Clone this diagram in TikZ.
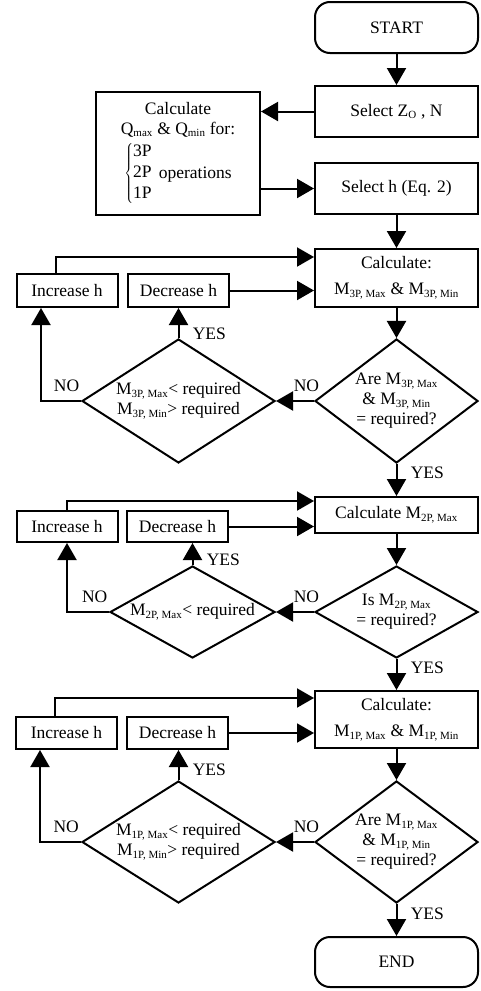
\documentclass[tikz,border=0pt]{standalone}
\usepackage{fontspec}
\setmainfont{Liberation Serif}
\usetikzlibrary{shapes.geometric, arrows.meta, positioning}
\tikzstyle{block}=[draw,fill=white,rectangle,inner sep=0pt,minimum width=163pt]
\tikzstyle{term}=[block,rounded corners=15pt,minimum height=51pt]
\tikzstyle{small}=[block,minimum width=101pt]
\tikzstyle{decision}=[draw,fill=white,diamond,inner sep=0pt,align=center]
\tikzstyle{every node}=[font=\fontsize{17.5}{20}\selectfont]
\newcommand{\sbs}[1]{\textsubscript{\fontsize{11}{11}\selectfont #1}}

\begin{document}
\begin{tikzpicture}[x=1pt,y=-1pt,line width=2pt,>={Triangle[length=17pt,width=19pt]}]
    \useasboundingbox (0,0) rectangle (480,991);
    \node[term] (start) at (396.5,27.5) {START};
    \node[block, minimum height=51pt, below of=start, node distance=84pt] (selz) {Select Z\sbs{O} , N};
    \node[block, minimum height=51pt, below of=selz, node distance=77pt] (selh) {Select h (Eq. 2)};
    \node[block, minimum width=164pt, minimum height=123pt, align=center] (calcq) at (178,153.5)
        {Calculate\\Q\sbs{max} \& Q\sbs{min} for:\\[5pt]$\left\{\begin{tabular}{@{}l@{}}3P\\[1pt]2P\\[1pt]1P\end{tabular}\right.$\hspace{6pt}operations};
    \draw[->] (start) -- (selz);
    \draw[->] (selz.west) -- (selz.west -| calcq.east);
    \draw[->] (selh.west -| calcq.east) -- (selh.west);

    % 3P
    \node[block, minimum height=58pt, align=center, below of=selh, node distance=89.5pt] (m3) {Calculate:\\[6pt]M\sbs{3P, Max} \& M\sbs{3P, Min}};
    \node[decision, minimum width=163pt, minimum height=124pt, aspect=1.31, below of=m3, node distance=123pt] (d3) {Are M\sbs{3P, Max}\\\& M\sbs{3P, Min}\\= required?};
    \node[decision, minimum width=193pt, minimum height=124pt, aspect=1.56, left of=d3, node distance=218pt] (c3) {M\sbs{3P, Max}< required\\M\sbs{3P, Min}> required};
    \node[small, minimum height=33pt, above of=c3, node distance=110.5pt] (dec3) {Decrease h};
    \node[small, minimum height=33pt, left of=dec3, node distance=111.5pt] (inc3) {Increase h};
    \draw[->] (selh) -- (m3);
    \draw[->] (m3) -- (d3);
    \draw[->] (d3.west) -- node[above=5pt, pos=.2] {NO} (c3.east);
    \draw[->] (c3.north) -- node[right=10pt, pos=.15] {YES} (c3.north |- dec3.south);
    \draw[->] (c3.west) -| node[above=5pt, pos=.18] {NO} ([xshift=-26pt]inc3.south);
    \draw[->] ([xshift=-11pt]inc3.north) |- ([yshift=21pt]m3.west);
    \draw[->] (dec3.east) -- (dec3.east -| m3.west);

    % 2P
    \node[block, minimum height=36pt, below of=d3, node distance=114pt] (m2) {Calculate M\sbs{2P, Max}};
    \node[decision, minimum width=163pt, minimum height=92pt, aspect=1.77, below of=m2, node distance=97pt] (d2) {Is M\sbs{2P, Max}\\= required?};
    \node[decision, minimum width=165pt, minimum height=92pt, aspect=1.79, left of=d2, node distance=204pt] (c2) {M\sbs{2P, Max}< required};
    \node[small, minimum height=31pt] (dec2) at (177.5,526.5) {Decrease h};
    \node[small, minimum height=31pt, left of=dec2, node distance=110.5pt] (inc2) {Increase h};
    \draw[->] (d3) -- node[right=10pt, pos=.26] {YES} (m2);
    \draw[->] (m2) -- (d2);
    \draw[->] (d2.west) -- node[above=5pt, pos=.2] {NO} (c2.east);
    \draw[->] (c2.north) -- node[right=10pt, pos=.25] {YES} (c2.north |- dec2.south);
    \draw[->] (c2.west) -| node[above=5pt, pos=.17] {NO} (inc2.south);
    \draw[->] (inc2.north) |- ([yshift=14pt]m2.west);
    \draw[->] (dec2.east) -- (dec2.east -| m2.west);

    % 1P
    \node[block, minimum height=57pt, align=center, below of=d2, node distance=107.5pt] (m1) {Calculate:\\[6pt]M\sbs{1P, Max} \& M\sbs{1P, Min}};
    \node[decision, minimum width=163pt, minimum height=122pt, aspect=1.34, below of=m1, node distance=122.5pt] (d1) {Are M\sbs{1P, Max}\\\& M\sbs{1P, Min}\\= required?};
    \node[decision, minimum width=193pt, minimum height=122pt, aspect=1.58, left of=d1, node distance=218pt] (c1) {M\sbs{1P, Max}< required\\M\sbs{1P, Min}> required};
    \node[small, minimum height=32pt] (dec1) at (177.5,733) {Decrease h};
    \node[small, minimum height=32pt, left of=dec1, node distance=111pt] (inc1) {Increase h};
    \node[term, minimum height=50pt, below of=d1, node distance=120pt] (stop) {END};
    \draw[->] (d2) -- node[right=10pt, pos=.27] {YES} (m1);
    \draw[->] (m1) -- (d1);
    \draw[->] (d1.west) -- node[above=5pt, pos=.2] {NO} (c1.east);
    \draw[->] (c1.north) -- node[right=10pt, pos=.34] {YES} (c1.north |- dec1.south);
    \draw[->] (c1.west) -| node[above=5pt, pos=.18] {NO} ([xshift=-26.5pt]inc1.south);
    \draw[->] ([xshift=-11.5pt]inc1.north) |- ([yshift=21.5pt]m1.west);
    \draw[->] (dec1.east) -- (dec1.east -| m1.west);
    \draw[->] (d1) -- node[right=10pt, pos=.3] {YES} (stop);
\end{tikzpicture}
\end{document}
